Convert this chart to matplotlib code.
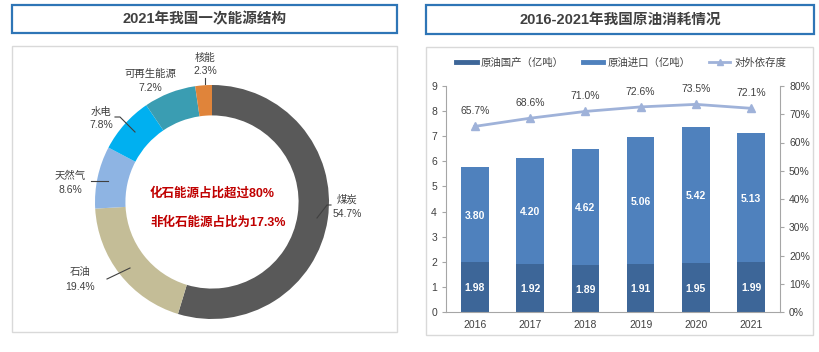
import matplotlib
matplotlib.use("Agg")
import matplotlib.pyplot as plt
from matplotlib.patches import Rectangle
from matplotlib.lines import Line2D
import numpy as np

plt.rcParams['font.family'] = ['Liberation Sans', 'Noto Sans CJK SC', 'DejaVu Sans']

# ---- data ----
energy_labels = ["煤炭", "石油", "天然气", "水电", "可再生能源", "核能"]
energy_share = [54.7, 19.4, 8.6, 7.8, 7.2, 2.3]
energy_colors = ["#595959", "#C4BD97", "#8EB4E3", "#00B0F0", "#3A9DB2", "#E0843A"]

years = ["2016", "2017", "2018", "2019", "2020", "2021"]
domestic = [1.98, 1.92, 1.89, 1.91, 1.95, 1.99]
imports = [3.80, 4.20, 4.62, 5.06, 5.42, 5.13]
dependency = [65.7, 68.6, 71.0, 72.6, 73.5, 72.1]

left_title = "2021年我国一次能源结构"
right_title = "2016-2021年我国原油消耗情况"
series_names = ["原油国产（亿吨）", "原油进口（亿吨）", "对外依存度"]
center_lines = ["化石能源占比超过80%", "非化石能源占比为17.3%"]

W, H = 820, 352
fig = plt.figure(figsize=(W / 100, H / 100), dpi=100)
fig.patch.set_facecolor("white")


def fx(x):
    return x / W


def fy(y):
    return 1 - y / H


def box(x0, y0, x1, y1, ec, lw):
    fig.patches.append(Rectangle((fx(x0), fy(y1)), fx(x1) - fx(x0), fy(y0) - fy(y1),
                                 transform=fig.transFigure, fill=False, ec=ec, lw=lw, zorder=0))


# title boxes and panels
box(12, 5, 397, 33, "#2E75B6", 1.6)
box(426, 5, 814, 34, "#2E75B6", 1.6)
box(12, 46, 397, 332, "#D9D9D9", 1.0)
box(426, 47, 813, 335, "#D9D9D9", 1.0)
fig.text(fx(204.5), fy(19), left_title, ha="center", va="center", fontsize=10.5,
         fontweight="bold", color="#404040")
fig.text(fx(620), fy(19.5), right_title, ha="center", va="center", fontsize=10.5,
         fontweight="bold", color="#404040")

# ---- donut ----
cx, cy, r = 212, 202, 117
axp = fig.add_axes([fx(cx - r), fy(cy + r), 2 * r / W, 2 * r / H])
axp.pie(energy_share, colors=energy_colors, startangle=90, counterclock=False,
        radius=1.0, wedgeprops=dict(width=0.26, edgecolor="none"))
axp.set_xlim(-1, 1)
axp.set_ylim(-1, 1)
axp.set_aspect("auto")
axp.axis("off")

lab_pos = {
    "核能": (205, 58, 71),
    "可再生能源": (150, 74, 88),
    "水电": (101, 112, 125),
    "天然气": (70, 176, 190),
    "石油": (80, 272, 287),
    "煤炭": (347, 200, 214),
}
for name, val in zip(energy_labels, energy_share):
    x, y1, y2 = lab_pos[name]
    fig.text(fx(x), fy(y1), name, ha="center", va="center", fontsize=7.5, color="#404040")
    fig.text(fx(x), fy(y2), f"{val}%", ha="center", va="center", fontsize=7.5, color="#404040")

leaders = [
    [(115, 117), (120, 117), (135, 132)],
    [(91, 181), (108, 181)],
    [(107, 279), (130, 268)],
    [(331, 205), (327, 205), (317, 218)],
    [(205, 78), (205, 84)],
]
for pts in leaders:
    xs = [fx(p[0]) for p in pts]
    ys = [fy(p[1]) for p in pts]
    fig.lines.append(Line2D(xs, ys, transform=fig.transFigure, color="#404040", lw=0.8))

fig.text(fx(150), fy(193), center_lines[0], ha="left", va="center", fontsize=9,
         fontweight="bold", color="#C00000")
fig.text(fx(150), fy(222), center_lines[1], ha="left", va="center", fontsize=9,
         fontweight="bold", color="#C00000")

# ---- bars ----
ax = fig.add_axes([fx(446), fy(312), (780 - 446) / W, (312 - 86) / H])
x = np.arange(len(years))
bw = 0.5
c_dom, c_imp, c_line = "#3D6698", "#4F81BD", "#9FB2D9"
ax.bar(x, domestic, bw, color=c_dom, zorder=2)
ax.bar(x, imports, bw, bottom=domestic, color=c_imp, zorder=2)
for i in range(len(years)):
    ax.text(x[i], domestic[i] / 2 - 0.05, f"{domestic[i]:.2f}", ha="center", va="center",
            color="white", fontsize=7.5, fontweight="bold", zorder=3)
    ax.text(x[i], domestic[i] + imports[i] / 2 - 0.05, f"{imports[i]:.2f}", ha="center",
            va="center", color="white", fontsize=7.5, fontweight="bold", zorder=3)
ax.set_xlim(-0.52, 5.52)
ax.set_ylim(0, 9)
ax.set_yticks(range(10))
ax.set_xticks(x)
ax.set_xticklabels(years)
for s in ["top", "right"]:
    ax.spines[s].set_visible(False)
for s in ["left", "bottom"]:
    ax.spines[s].set_color("#A6A6A6")
ax.tick_params(axis="both", labelsize=7.5, colors="#A6A6A6", labelcolor="#404040", length=3)
ax.tick_params(axis="x", length=0, pad=6)

ax2 = ax.twinx()
ax2.plot(x, dependency, color=c_line, lw=2, marker="^", ms=6, zorder=4)
for i, v in enumerate(dependency):
    ax2.annotate(f"{v:.1f}%", (x[i], v), textcoords="offset points", xytext=(0, 11),
                 ha="center", va="center", fontsize=7.5, color="#404040")
ax2.set_ylim(0, 80)
ax2.set_yticks(range(0, 81, 10))
ax2.set_yticklabels([f"{v}%" for v in range(0, 81, 10)])
for s in ["top", "left", "bottom"]:
    ax2.spines[s].set_visible(False)
ax2.spines["right"].set_color("#A6A6A6")
ax2.tick_params(axis="y", labelsize=7.5, colors="#A6A6A6", labelcolor="#404040", length=3)

handles = [Line2D([], [], color=c_dom, lw=3.5),
           Line2D([], [], color=c_imp, lw=3.5),
           Line2D([], [], color=c_line, lw=2, marker="^", ms=4)]
fig.legend(handles, series_names, loc="center", bbox_to_anchor=(fx(621), fy(63)),
           ncol=3, frameon=False, fontsize=7.5, handlelength=2.0, columnspacing=1.8,
           labelcolor="#404040", handletextpad=0.4)

fig.savefig("out.png", dpi=100)
